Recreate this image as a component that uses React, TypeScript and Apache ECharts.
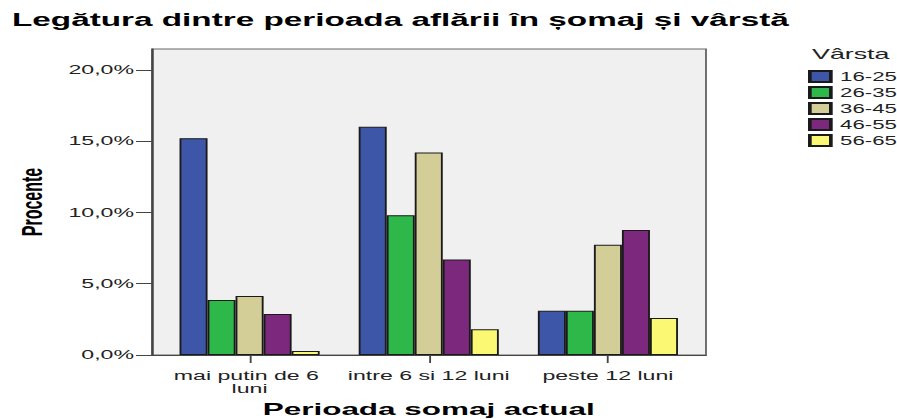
import React, { useEffect, useRef } from "react";
import * as echarts from "echarts";

const titleText = "Legătura dintre perioada aflării în șomaj și vârstă";
const categories = ["mai putin de 6 luni", "intre 6 si 12 luni", "peste 12 luni"];
const seriesNames = ["16-25", "26-35", "36-45", "46-55", "56-65"];
const v1625 = [15.2, 16.0, 3.1];
const v2635 = [3.86, 9.8, 3.1];
const v3645 = [4.14, 14.2, 7.74];
const v4655 = [2.88, 6.7, 8.77];
const v5665 = [0.28, 1.8, 2.6];
const yTicks = [0, 5, 10, 15, 20];
const colors = ["#3e56a8", "#2eb84a", "#d3ce97", "#7c287d", "#fbf873"];

const S = 1.85;
const W = 897 / S;
const H = 419;
const sx = (px: number) => px / S;

export default function App() {
  const ref = useRef<HTMLDivElement>(null);
  useEffect(() => {
    if (!ref.current) return;
    const chart = echarts.init(ref.current, undefined, { renderer: "svg" });
    const values = [v1625, v2635, v3645, v4655, v5665];
    const font = "Liberation Sans, Arial, sans-serif";
    const yMax = 21.46;
    chart.setOption({
      animation: false,
      backgroundColor: "#ffffff",
      title: [
        {
          text: titleText,
          left: sx(12),
          top: 11,
          padding: 0,
          textStyle: { fontFamily: font, fontSize: 18, fontWeight: "bold", color: "#000" },
        },
        {
          text: "Vârsta",
          left: sx(812),
          top: 46,
          padding: 0,
          textStyle: { fontFamily: font, fontSize: 14.5, fontWeight: "normal", color: "#222" },
        },
      ],
      legend: {
        orient: "vertical",
        left: sx(808),
        top: 70,
        padding: 0,
        icon: "rect",
        itemWidth: sx(21),
        itemHeight: 11,
        itemGap: 3,
        textStyle: { fontFamily: font, fontSize: 12, color: "#222" },
        data: seriesNames,
      },
      grid: [
        {
          left: sx(152),
          top: 49,
          width: sx(706) - sx(152),
          height: 306,
          show: true,
          backgroundColor: "#f0f0f0",
          borderColor: "#666",
          borderWidth: 1,
          outerBoundsMode: "none",
          containLabel: false,
        },
        {
          left: sx(160),
          top: 49,
          width: sx(697.5) - sx(160),
          height: 306,
          outerBoundsMode: "none",
          containLabel: false,
        },
      ],
      xAxis: [
        {
          gridIndex: 0,
          type: "value",
          min: 0,
          max: 1,
          axisLine: { show: true, lineStyle: { color: "#444", width: 1 } },
          axisTick: { show: false },
          axisLabel: { show: false },
          splitLine: { show: false },
        },
        {
          gridIndex: 1,
          type: "category",
          data: categories,
          name: "Perioada somaj actual",
          nameLocation: "middle",
          nameGap: 45,
          nameTextStyle: { fontFamily: font, fontSize: 17, fontWeight: "bold", color: "#000" },
          axisLine: { show: false },
          axisTick: { show: true, alignWithLabel: true, length: 8, lineStyle: { color: "#444" } },
          axisLabel: {
            interval: 0,
            fontFamily: font,
            fontSize: 12.5,
            color: "#222",
            margin: 14,
            lineHeight: 13,
            width: 94,
            overflow: "break",
          },
        },
      ],
      yAxis: [
        {
          gridIndex: 0,
          type: "value",
          min: 0,
          max: yMax,
          name: "Procente",
          nameLocation: "middle",
          nameGap: 57,
          nameRotate: 90,
          nameTextStyle: { fontFamily: font, fontSize: 16, fontWeight: "bold", color: "#000" },
          axisLine: { show: true, lineStyle: { color: "#444", width: 1.2 } },
          axisTick: { show: true, length: sx(16), customValues: yTicks, lineStyle: { color: "#444" } },
          axisLabel: {
            fontFamily: font,
            fontSize: 12.5,
            color: "#222",
            margin: sx(18),
            customValues: yTicks,
            formatter: (v: number) => v.toFixed(1).replace(".", ",") + "%",
          },
          splitLine: { show: false },
        },
        { gridIndex: 1, type: "value", min: 0, max: yMax, show: false },
      ],
      series: seriesNames.map((n, i) => ({
        name: n,
        type: "bar",
        xAxisIndex: 1,
        yAxisIndex: 1,
        data: values[i],
        barGap: "0%",
        barCategoryGap: "21.8%",
        itemStyle: { color: colors[i], borderColor: "#1a1a1a", borderWidth: 1 },
      })),
    });
    return () => chart.dispose();
  }, []);
  return (
    <div
      ref={ref}
      style={{
        position: "absolute",
        left: 0,
        top: 0,
        width: W,
        height: H,
        transform: `scaleX(${S})`,
        transformOrigin: "0 0",
      }}
    />
  );
}
